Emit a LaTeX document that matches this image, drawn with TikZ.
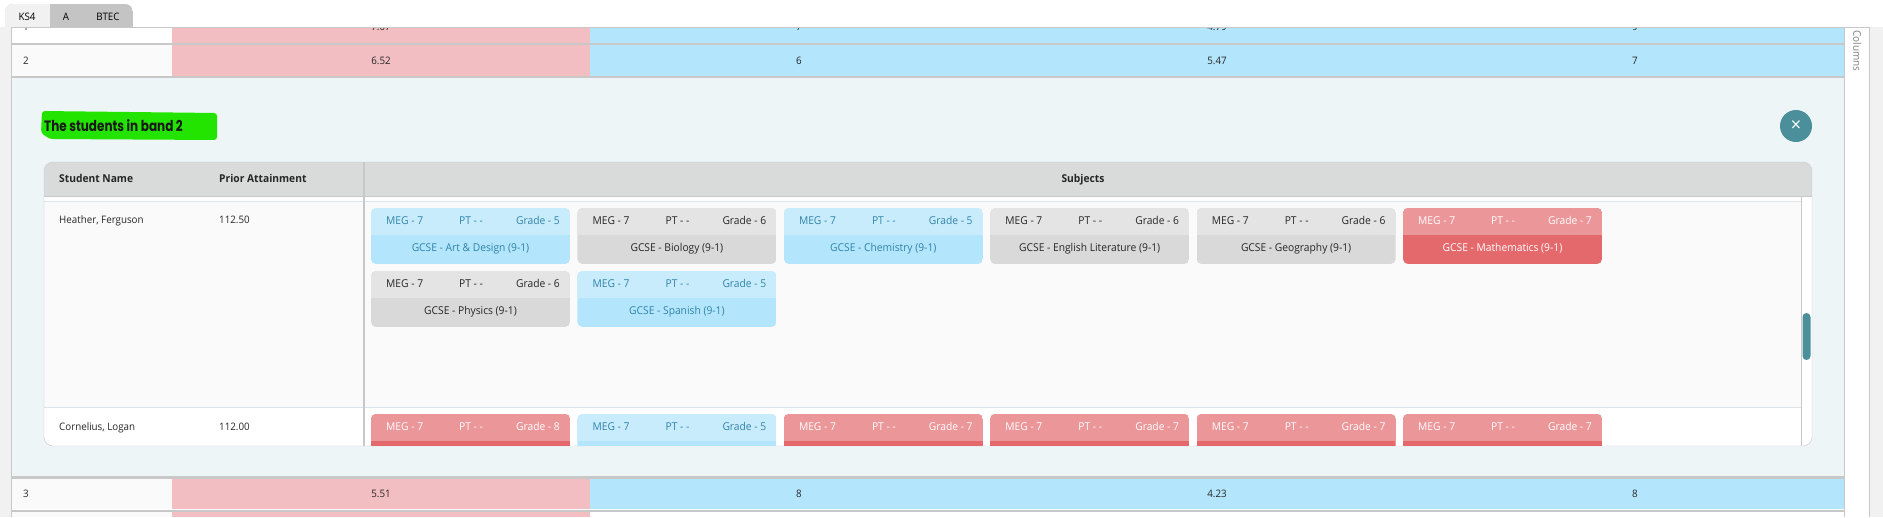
\documentclass[tikz,border=0pt]{standalone}
\usepackage{fontspec}
\setmainfont{Open Sans}[FakeStretch=0.95]
\newfontfamily\markfont{Poppins}[FakeStretch=0.8]
\usetikzlibrary{positioning}

\definecolor{pinkcell}{HTML}{F2BEC1}
\definecolor{bluecell}{HTML}{B3E5FC}
\definecolor{panelbg}{HTML}{EDF5F7}
\definecolor{gridline}{HTML}{C8C8C8}
\definecolor{lightline}{HTML}{DDE3EA}
\definecolor{headgray}{HTML}{D9DADA}
\definecolor{rowwhite}{HTML}{FAFAFA}
\definecolor{sidegray}{HTML}{F1F1F1}
\definecolor{tabgray}{HTML}{C4C4C4}
\definecolor{closeteal}{HTML}{4A8F99}
\definecolor{markgreen}{HTML}{22E400}
\definecolor{inkgray}{HTML}{262626}
\definecolor{bluT}{HTML}{C9ECFD}
\definecolor{bluB}{HTML}{B3E5FC}
\definecolor{bluX}{HTML}{2F84AA}
\definecolor{gryT}{HTML}{E4E4E4}
\definecolor{gryB}{HTML}{D9D9D9}
\definecolor{gryX}{HTML}{262626}
\definecolor{redT}{HTML}{EB9699}
\definecolor{redB}{HTML}{E4696C}
\definecolor{redX}{HTML}{FFFFFF}

% subject chip: name, x, y, colour set, grade
\newcommand{\chip}[5]{%
\begin{scope}
\clip[rounded corners=5pt] (#2,#3) rectangle ++(199,56);
\fill[fill=#4B] (#2,#3) rectangle ++(199,56);
\fill[fill=#4T] (#2,#3) rectangle ++(199,27);
\end{scope}
\node[chiptext,text=#4X,anchor=west] (#1-meg) at (#2+15,#3+13) {MEG - 7};
\node[chiptext,text=#4X,anchor=west] (#1-pt) at (#2+88,#3+13) {PT - -};
\node[chiptext,text=#4X,anchor=east] (#1-gr) at (#2+189,#3+13) {Grade - #5};
}

\begin{document}
\begin{tikzpicture}[x=1pt,y=-1pt]
\tikzstyle{cell}=[font=\fontsize{10.3}{12}\selectfont, text=inkgray, inner sep=0pt, text height=7.3pt, text depth=0pt]
\tikzstyle{chiptext}=[font=\fontsize{10.8}{12}\selectfont, inner sep=0pt, text height=7.7pt, text depth=0pt]
\tikzstyle{headtext}=[cell, font=\fontsize{10.8}{12}\selectfont\bfseries]
\tikzstyle{rule}=[gridline, line width=2pt]
\useasboundingbox (0,0) rectangle (1883,517);
\fill[white] (0,0) rectangle (1883,517);

% tabs
\begin{scope}
\clip[rounded corners=8pt] (5,4) rectangle (133,40);
\fill[tabgray] (5,4) rectangle (133,27);
\fill[sidegray] (5,4) rectangle (50,27);
\end{scope}
\node[cell,text=black] (ks4) at (27,17) {KS4};
\node[cell,text=black] (tabA) at (66,17) {A};
\node[cell,text=black] (btec) at (108,17) {BTEC};

% side strips
\fill[sidegray] (0,27) rectangle (11,517);
\fill[sidegray] (1869,27) rectangle (1883,517);
\node[cell,rotate=-90,text=gray,font=\fontsize{10.5}{12}\selectfont] (cols) at (1857,51) {Columns};

% band rows
\fill[white] (11,27) rectangle (172,43);
\fill[pinkcell] (172,27) rectangle (590,43);
\fill[bluecell] (590,27) rectangle (1844,43);
\begin{scope}
\clip (11,27) rectangle (1844,43);
\node[cell,anchor=west] (r1n) at (23,27) {1};
\node[cell] (r1a) at (381,27) {7.07};
\node[cell] (r1b) at (799,27) {7};
\node[cell] (r1c) at (1217,27) {4.79};
\node[cell] (r1d) at (1635,27) {9};
\end{scope}
\fill[rowwhite] (11,45) rectangle (172,76);
\fill[pinkcell] (172,45) rectangle (590,76);
\fill[bluecell] (590,45) rectangle (1844,76);
\node[cell,anchor=west] (r2n) at (23,60.5) {2};
\node[cell] (r2a) at (381,60.5) {6.52};
\node[cell] (r2b) at (799,60.5) {6};
\node[cell] (r2c) at (1217,60.5) {5.47};
\node[cell] (r2d) at (1635,60.5) {7};
\fill[panelbg] (11,78) rectangle (1844,476);
\fill[rowwhite] (11,479) rectangle (172,509);
\fill[pinkcell] (172,479) rectangle (590,509);
\fill[bluecell] (590,479) rectangle (1844,509);
\node[cell,anchor=west] (r3n) at (23,494) {3};
\node[cell] (r3a) at (381,494) {5.51};
\node[cell] (r3b) at (799,494) {8};
\node[cell] (r3c) at (1217,494) {4.23};
\node[cell] (r3d) at (1635,494) {8};
\fill[rowwhite] (11,512) rectangle (172,517);
\fill[pinkcell] (172,512) rectangle (590,517);
\draw[rule] (11,44) -- (1844,44);
\draw[rule] (11,77) -- (1844,77);
\draw[gridline, line width=3pt] (11,477.5) -- (1844,477.5);
\draw[rule] (11,510.5) -- (1844,510.5);
\draw[gridline] (11,27) -- (1869,27);
\draw[gridline] (11,27) -- (11,517);
\draw[gridline] (1844,27) -- (1844,517);
\draw[gridline] (1869,27) -- (1869,517);

% title and close button
\fill[markgreen, rounded corners=3pt] (42,111) -- (217,113) -- (217,140) -- (50,139) -- (41,133) -- cycle;
\node[font=\markfont\bfseries\fontsize{15}{18}\selectfont, anchor=west, inner sep=0pt, text=black!90] (title) at (44,125.5) {The students in band 2};
\node[circle, fill=closeteal, minimum size=32pt, inner sep=0pt, text=white, font=\fontsize{19}{19}\selectfont] (close) at (1796,126) {×};

% student card
\fill[white, rounded corners=9pt] (44,162) rectangle (1812,446);
\begin{scope}
\clip[rounded corners=9pt] (44,162) rectangle (1812,446);
\fill[headgray] (44,162) rectangle (1812,196);
\fill[rowwhite] (44,202) rectangle (1801,407.5);
\draw[gridline] (44,196) -- (1812,196);
\draw[lightline] (44,201.5) -- (1801,201.5);
\draw[lightline] (44,407.5) -- (1801,407.5);
\draw[gridline, line width=1.5pt] (364,162) -- (364,446);
\draw[gridline] (1801.5,196) -- (1801.5,446);
\end{scope}
\draw[gridline, rounded corners=9pt] (44,162) rectangle (1812,446);
\fill[closeteal, rounded corners=4pt] (1802.5,313) rectangle (1810.5,360);

\node[headtext,anchor=west] (hname) at (59,179) {Student Name};
\node[headtext,anchor=west] (hprior) at (219,179) {Prior Attainment};
\node[headtext] (hsubj) at (1083,179) {Subjects};
\node[cell,anchor=west] (s1name) at (59,220) {Heather, Ferguson};
\node[cell,anchor=west] (s1prior) at (219,220) {112.50};
\node[cell,anchor=west] (s2name) at (59,427) {Cornelius, Logan};
\node[cell,anchor=west] (s2prior) at (219,427) {112.00};

% chips of the first student
\foreach \i/\clr/\g/\s in {0/blu/5/Art \& Design (9-1), 1/gry/6/Biology (9-1), 2/blu/5/Chemistry (9-1), 3/gry/6/English Literature (9-1), 4/gry/6/Geography (9-1), 5/red/7/Mathematics (9-1)}{
  \chip{hf\i}{371+206.4*\i}{208}{\clr}{\g}
  \node[chiptext,text=\clr X] (hf\i-sub) at (470.5+206.4*\i,248) {GCSE - \s};
}
\foreach \i/\clr/\g/\s in {0/gry/6/Physics (9-1), 1/blu/5/Spanish (9-1)}{
  \chip{hfb\i}{371+206.4*\i}{271}{\clr}{\g}
  \node[chiptext,text=\clr X] (hfb\i-sub) at (470.5+206.4*\i,311) {GCSE - \s};
}
% chips of the second student, cut by the card
\begin{scope}
\clip (365,408) rectangle (1801,445.5);
\foreach \i/\clr/\g in {0/red/8, 1/blu/5, 2/red/7, 3/red/7, 4/red/7, 5/red/7}{
  \chip{cl\i}{371+206.4*\i}{414}{\clr}{\g}
}
\end{scope}
\end{tikzpicture}
\end{document}
